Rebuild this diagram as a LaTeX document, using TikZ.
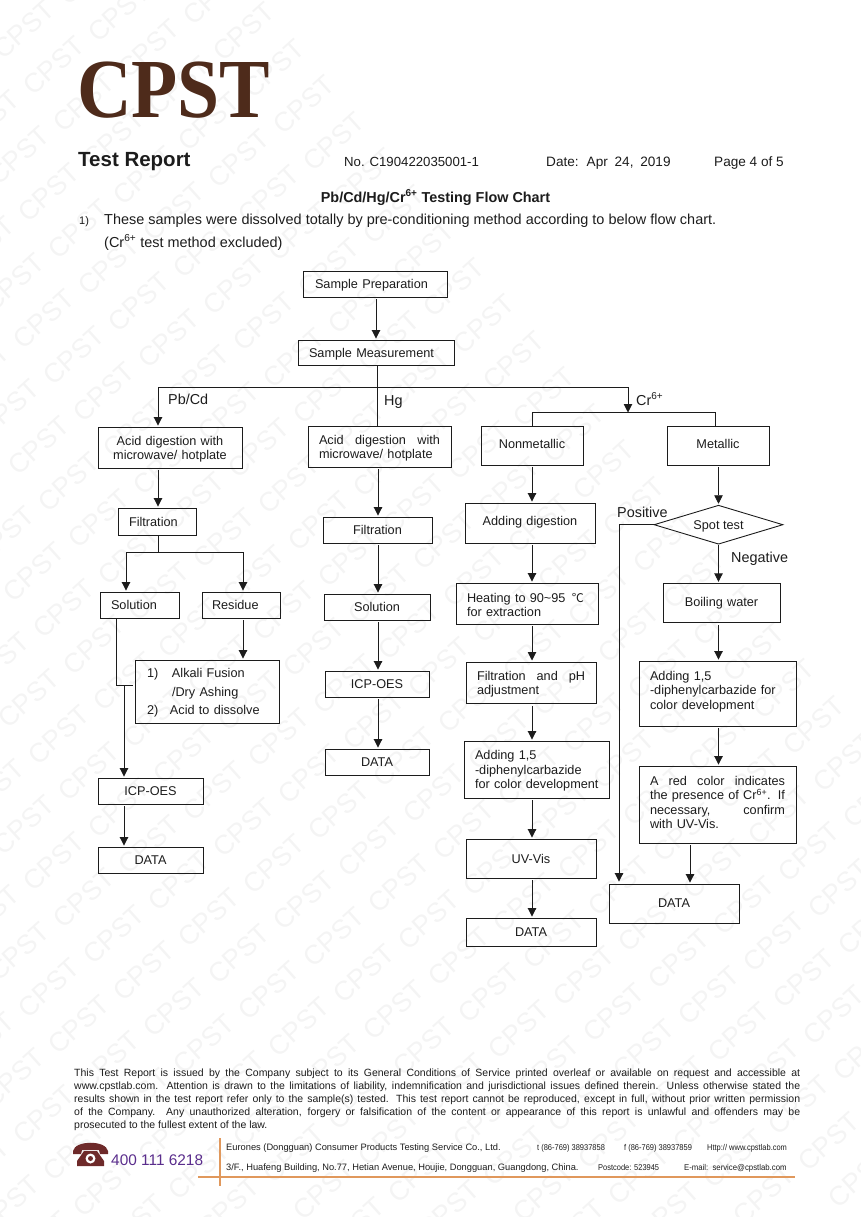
\documentclass[tikz,border=0pt]{standalone}
\usepackage{fontspec}
\setmainfont{Liberation Sans}
\newfontfamily\logofont{Liberation Serif}
\newfontfamily\cjk{Noto Sans CJK SC}
\usetikzlibrary{arrows.meta,shapes.geometric}

\definecolor{lineblack}{HTML}{1C1C1C}
\definecolor{logobrown}{HTML}{4E2B1B}
\definecolor{phonered}{HTML}{6E2A2A}
\definecolor{hotpurple}{HTML}{5A2D8C}
\definecolor{ruleorange}{HTML}{E0985C}
\definecolor{stampgrey}{HTML}{F4F4F4}

\newcommand{\boxfont}{\fontsize{12.7}{14.5}\selectfont}
\newcommand{\smallfoot}{\fontsize{9.3}{11}\selectfont}
\newcommand{\tinyfoot}{\fontsize{8.4}{10}\selectfont}

\tikzset{
  flowbox/.style 2 args={draw=lineblack, line width=0.9pt, inner sep=0pt, text=lineblack,
    minimum width=#1pt, minimum height=#2pt, text width=#1pt-22pt, align=center, font=\boxfont,
    execute at end node={\par\vspace{-3pt}}},
  lifted/.style={execute at end node={\par\vspace{#1}}},
  flowline/.style={draw=lineblack, line width=0.9pt},
  flowarrow/.style={flowline, -{Triangle[length=8.5pt,width=8.5pt]}, shorten <=2pt, shorten >=1pt},
  branchlabel/.style={font=\fontsize{14.4}{16}\selectfont, text=lineblack, inner sep=0pt},
  headtext/.style={anchor=base west, inner sep=0pt, text=lineblack, font=\fontsize{13.6}{16}\selectfont},
  foottext/.style={anchor=base west, inner sep=0pt, text=lineblack, font=\smallfoot},
  tinytext/.style={foottext, font=\tinyfoot, transform shape, xscale=0.89},
  stamp/.style={text=stampgrey, rotate=42, inner sep=0pt, font=\fontsize{27}{27}\selectfont},
  footrule/.style={draw=ruleorange, line width=1.8pt}
}

\begin{document}
\begin{tikzpicture}[x=1pt, y=-1pt]
\useasboundingbox (0,0) rectangle (860,1217);

% watermark over the whole page
\begin{scope}
\clip (0,0) rectangle (860,1217);
\foreach \i in {-10,...,9}
  \foreach \j in {-30,...,8}
  {
    \pgfmathsetmacro\stampx{49+30*\j+95*\i}
    \pgfmathsetmacro\stampy{988+36.5*\j-17*\i}
    \pgfmathtruncatemacro\stampin{and(and(\stampx>-25,\stampx<885),and(\stampy>-25,\stampy<1242))}
    \ifnum\stampin=1
      \node[stamp] (stamp\i x\j) at (\stampx,\stampy) {CPST};
    \fi
  }
\end{scope}

%% page head
\node[anchor=base west, inner sep=0pt, text=logobrown, transform shape, xscale=0.9,
  font=\logofont\bfseries\fontsize{84}{84}\selectfont] (logo) at (77,118) {CPST};
\node[headtext, font=\bfseries\fontsize{20.5}{22}\selectfont] (report) at (78,167) {Test Report};
\node[headtext, font=\fontsize{13.2}{16}\selectfont] (number) at (344,167) {No. C190422035001-1};
\node[headtext] (date) at (546,167) {Date:\hspace{3pt} Apr\hspace{3pt} 24,\hspace{3pt} 2019};
\node[headtext] (page) at (714,167) {Page 4 of 5};
\node[headtext, anchor=base, font=\bfseries\fontsize{14.4}{16}\selectfont] (title) at (435.5,202)
  {Pb/Cd/Hg/Cr\textsuperscript{6+} Testing Flow Chart};
\node[headtext, font=\fontsize{11}{14}\selectfont] (itemno) at (79,224) {1)};
\node[headtext, font=\fontsize{14.45}{16}\selectfont] (itemone) at (104,224)
  {These samples were dissolved totally by pre-conditioning method according to below flow chart.};
\node[headtext, font=\fontsize{14.45}{16}\selectfont] (itemtwo) at (104,247)
  {(Cr\textsuperscript{6+} test method excluded)};

%% boxes, left column
\node[flowbox={144}{26}, align=left, text width=120pt] (prepare) at (375,284) {Sample Preparation};
\node[flowbox={156}{25}, align=left, text width=134pt] (measure) at (376,352.5) {Sample Measurement};

\node[flowbox={144}{41}] (acidA) at (170,447.5) {Acid digestion with\\microwave/ hotplate};
\node[flowbox={78}{27}, align=left] (filterA) at (157,521.5) {Filtration};
\node[flowbox={79}{26}, align=left] (solutionA) at (139.5,605) {Solution};
\node[flowbox={78}{26}, align=left, text width=58pt] (residue) at (241,605) {Residue};
\node[flowbox={144}{63}, align=left, text width=120pt] (alkali) at (207,691.5)
  {\makebox[25pt][l]{1)}Alkali Fusion\\[4pt]\makebox[25pt][l]{}/Dry Ashing\\[4pt]\makebox[23pt][l]{2)}Acid to dissolve};
\node[flowbox={105}{26}] (icpA) at (150.5,791) {ICP-OES};
\node[flowbox={105}{26}, lifted=2pt] (dataA) at (150.5,860) {DATA};

%% boxes, Hg column
\node[flowbox={143}{41}, align=left, text width=121pt] (acidB) at (379.5,446.5)
  {\makebox[121pt][s]{Acid\hfil digestion\hfil with}\\microwave/ hotplate};
\node[flowbox={109}{26}] (filterB) at (377.5,530) {Filtration};
\node[flowbox={106}{26}] (solutionB) at (377,607) {Solution};
\node[flowbox={104}{26}] (icpB) at (377,684) {ICP-OES};
\node[flowbox={104}{26}, lifted=2pt] (dataB) at (377,762) {DATA};

%% boxes, nonmetallic column
\node[flowbox={102}{39}, lifted=6pt] (nonmetal) at (532,445.5) {Nonmetallic};
\node[flowbox={130}{40}, lifted=4pt] (digest) at (530,523) {Adding digestion};
\node[flowbox={142}{41}, align=left] (heat) at (527,603.5)
  {\mbox{Heating to 90\textasciitilde95\, {\cjk\fontsize{12}{12}\selectfont ℃}}\\for extraction};
\node[flowbox={130}{41.5}, align=left, text width=108pt] (adjust) at (531,682.7)
  {\makebox[108pt][s]{Filtration\hfil and\hfil pH}\\adjustment};
\node[flowbox={145}{57}, align=left] (colourA) at (536.5,769.5)
  {Adding 1,5\\-diphenylcarbazide\\\mbox{for color development}};
\node[flowbox={130}{39}, lifted=3pt] (uvvis) at (531,858.5) {UV-Vis};
\node[flowbox={130}{28}, lifted=2pt] (dataC) at (531,932) {DATA};

%% boxes, metallic column
\node[flowbox={102}{39}, lifted=6pt] (metal) at (718,445.5) {Metallic};
\node[draw=lineblack, line width=0.9pt, shape=diamond, aspect=3.3, inner sep=0pt, text=lineblack,
  minimum width=129pt, minimum height=39pt, text height=10pt, text depth=0pt, font=\boxfont] (spot) at (718.5,524.7) {Spot test};
\node[flowbox={117}{39.5}, lifted=2pt] (boil) at (721.5,603) {Boiling water};
\node[flowbox={157}{65}, align=left, lifted=7pt] (colourB) at (717.5,693.5)
  {Adding 1,5\\-diphenylcarbazide for\\color development};
\node[flowbox={157}{77}, align=left, text width=135pt, lifted=7pt] (redcolor) at (717.5,804.5)
  {\makebox[135pt][s]{A\hfil red\hfil color\hfil indicates}\\
   \makebox[135pt][s]{the presence of Cr\textsuperscript{6+}.\hfil If}\\
   \makebox[135pt][s]{necessary,\hfil confirm}\\with UV-Vis.};
\node[flowbox={130}{39}, lifted=3pt] (dataD) at (674,903.5) {DATA};

%% branch labels
\node[branchlabel, anchor=base west] (labelPb) at (168,404) {Pb/Cd};
\node[branchlabel, anchor=base west] (labelHg) at (384,405) {Hg};
\node[branchlabel, anchor=base west] (labelCr) at (636,405) {Cr\textsuperscript{6+}};
\node[branchlabel, anchor=base west] (labelPos) at (617,517) {Positive};
\node[branchlabel, anchor=base west] (labelNeg) at (731,562) {Negative};

%% lanes the connectors run along
\coordinate (busLeft) at (158,387);
\coordinate (busMid) at (377,387);
\coordinate (busRight) at (628,387);
\coordinate (crSplit) at (628,412.5);
\coordinate (laneNon) at (532,412.5);
\coordinate (laneMet) at (715,412.5);
\coordinate (splitLeft) at (126,552);
\coordinate (splitMid) at (158,552);
\coordinate (splitRight) at (243,552);
\coordinate (joinStart) at (116,685);
\coordinate (joinEnd) at (133,685);
\coordinate (laneIcp) at (124,685);
\coordinate (laneHg) at (378,0);
\coordinate (laneDown) at (532,0);
\coordinate (laneSpot) at (718.5,0);
\coordinate (laneData) at (690,0);
\coordinate (lanePos) at (619,0);

%% connectors
\draw[flowarrow] (prepare.south -| measure.north) -- (measure.north);
\draw[flowline] (busMid |- measure.south) -- (busMid |- acidB.north);
\draw[flowline] (busLeft) -- (busRight);
\draw[flowarrow, shorten <=0pt] (busLeft) -- (busLeft |- acidA.north);
\draw[flowarrow, shorten <=0pt, shorten >=0pt] (busRight) -- (crSplit);
\draw[flowline] (laneNon |- nonmetal.north) -- (laneNon) -- (laneMet) -- (laneMet |- metal.north);

\draw[flowarrow] (busLeft |- acidA.south) -- (busLeft |- filterA.north);
\draw[flowline] (busLeft |- filterA.south) -- (splitMid);
\draw[flowline] (splitLeft) -- (splitRight);
\draw[flowarrow, shorten <=0pt] (splitLeft) -- (splitLeft |- solutionA.north);
\draw[flowarrow, shorten <=0pt] (splitRight) -- (splitRight |- residue.north);
\draw[flowarrow] (splitRight |- residue.south) -- (splitRight |- alkali.north);
\draw[flowline] (joinStart |- solutionA.south) -- (joinStart) -- (joinEnd);
\draw[flowarrow, shorten <=0pt] (laneIcp) -- (laneIcp |- icpA.north);
\draw[flowarrow] (laneIcp |- icpA.south) -- (laneIcp |- dataA.north);

\draw[flowarrow] (laneHg |- acidB.south) -- (laneHg |- filterB.north);
\draw[flowarrow] (laneHg |- filterB.south) -- (laneHg |- solutionB.north);
\draw[flowarrow] (laneHg |- solutionB.south) -- (laneHg |- icpB.north);
\draw[flowarrow] (laneHg |- icpB.south) -- (laneHg |- dataB.north);

\draw[flowarrow] (laneDown |- nonmetal.south) -- (laneDown |- digest.north);
\draw[flowarrow] (laneDown |- digest.south) -- (laneDown |- heat.north);
\draw[flowarrow] (laneDown |- heat.south) -- (laneDown |- adjust.north);
\draw[flowarrow] (laneDown |- adjust.south) -- (laneDown |- colourA.north);
\draw[flowarrow] (laneDown |- colourA.south) -- (laneDown |- uvvis.north);
\draw[flowarrow] (laneDown |- uvvis.south) -- (laneDown |- dataC.north);

\draw[flowarrow] (laneSpot |- metal.south) -- (spot.north);
\draw[flowarrow, shorten <=0pt] (spot.south) -- (laneSpot |- boil.north);
\draw[flowarrow] (laneSpot |- boil.south) -- (laneSpot |- colourB.north);
\draw[flowarrow] (laneSpot |- colourB.south) -- (laneSpot |- redcolor.north);
\draw[flowarrow] (laneData |- redcolor.south) -- (laneData |- dataD.north);
\draw[flowarrow, shorten <=0pt, shorten >=2pt] (spot.west) -- (lanePos |- spot.west) -- (lanePos |- dataD.north);

%% page foot
\node[anchor=north west, inner sep=0pt, text width=726pt, align=justify, text=lineblack,
  font=\fontsize{10.5}{13}\selectfont] (terms) at (74,1069)
  {This Test Report is issued by the Company subject to its General Conditions of Service printed overleaf or available on request and accessible at\linebreak
   www.cpstlab.com. Attention is drawn to the limitations of liability, indemnification and jurisdictional issues defined therein. Unless otherwise stated the\linebreak
   results shown in the test report refer only to the sample(s) tested. This test report cannot be reproduced, except in full, without prior written permission\linebreak
   of the Company. Any unauthorized alteration, forgery or falsification of the content or appearance of this report is unlawful and offenders may be\linebreak
   prosecuted to the fullest extent of the law.};

% telephone
\fill[phonered] (73,1151) .. controls (75,1140) and (106,1140) .. (108,1151)
  -- (108,1154) -- (100,1154) -- (99,1150) -- (82,1150) -- (81,1154) -- (73,1154) -- cycle;
\fill[phonered] (84,1151) -- (97,1151) -- (104,1161) -- (104,1166) -- (77,1166) -- (77,1161) -- cycle;
\fill[white] (90.5,1158.5) circle [radius=5];
\fill[phonered] (90.5,1158.5) circle [radius=2.5];

\node[foottext, text=hotpurple, font=\fontsize{15.4}{17}\selectfont] (hotline) at (111,1165.5) {400 111 6218};

\draw[footrule] (220,1138) -- (220,1186);
\fill[ruleorange] (198,1176.3) rectangle (795,1178.3);

\node[foottext] (company) at (226,1150) {Eurones (Dongguan) Consumer Products Testing Service Co., Ltd.};
\node[tinytext] (phone) at (537,1150) {t (86-769) 38937858};
\node[tinytext] (fax) at (624,1150) {f (86-769) 38937859};
\node[tinytext] (web) at (707,1150) {Http:// www.cpstlab.com};
\node[foottext] (address) at (226,1170) {3/F., Huafeng Building, No.77, Hetian Avenue, Houjie, Dongguan, Guangdong, China.};
\node[tinytext] (postcode) at (598,1170) {Postcode: 523945};
\node[tinytext, xscale=1.04] (mail) at (684,1170) {E-mail:\, service@cpstlab.com};

\end{tikzpicture}
\end{document}
